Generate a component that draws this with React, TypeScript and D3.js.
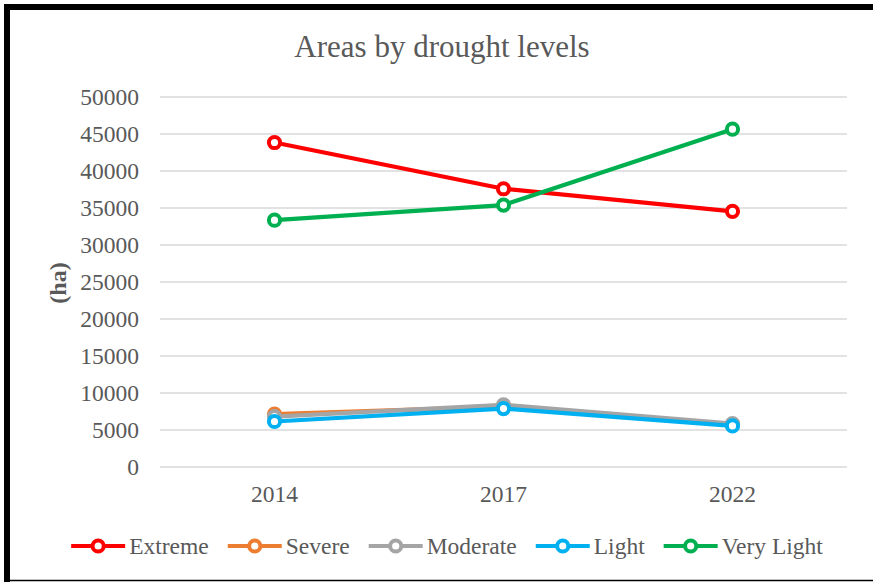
import React, { useEffect, useRef } from "react";
import * as d3 from "d3";

const years = ["2014", "2017", "2022"];
const seriesNames = ["Extreme", "Severe", "Moderate", "Light", "Very Light"];
const extreme = [43850, 37600, 34550];
const severe = [7150, 8150, 5750];
const moderate = [6800, 8400, 5850];
const light = [6150, 7900, 5550];
const veryLight = [33350, 35400, 45650];
const yTicks = [0, 5000, 10000, 15000, 20000, 25000, 30000, 35000, 40000, 45000, 50000];
const colors = ["#FF0000", "#ED7D31", "#A5A5A5", "#00B0F0", "#00B050"];

const W = 873;
const H = 582;
const FONT = "'Liberation Serif', 'Times New Roman', serif";
const TEXT = "#595959";

export default function App() {
  const ref = useRef<SVGSVGElement | null>(null);

  useEffect(() => {
    const svg = d3.select(ref.current);
    svg.selectAll("*").remove();

    const values = [extreme, severe, moderate, light, veryLight];

    const x = d3.scalePoint<string>().domain(years).range([160, 847]).padding(0.5);
    const y = d3.scaleLinear().domain([0, 50000]).range([467, 97]);

    svg.append("rect").attr("width", W).attr("height", H).attr("fill", "#fff");

    // outer frame: top, left and bottom edges
    svg
      .append("path")
      .attr("d", `M${W},7 H7 V${H}`)
      .attr("fill", "none")
      .attr("stroke", "#000")
      .attr("stroke-width", 6);
    svg
      .append("line")
      .attr("x1", 4)
      .attr("x2", W)
      .attr("y1", 580.5)
      .attr("y2", 580.5)
      .attr("stroke", "#000")
      .attr("stroke-width", 1.5);

    // title
    svg
      .append("text")
      .attr("x", 442)
      .attr("y", 57)
      .attr("text-anchor", "middle")
      .attr("font-family", FONT)
      .attr("font-size", 31)
      .attr("fill", TEXT)
      .text("Areas by drought levels");

    // gridlines
    svg
      .append("g")
      .selectAll("line")
      .data(yTicks)
      .join("line")
      .attr("x1", 160)
      .attr("x2", 847)
      .attr("y1", (d) => y(d))
      .attr("y2", (d) => y(d))
      .attr("stroke", "#d9d9d9")
      .attr("stroke-width", 1.5);

    // y tick labels
    svg
      .append("g")
      .selectAll("text")
      .data(yTicks)
      .join("text")
      .attr("x", 139)
      .attr("y", (d) => y(d))
      .attr("dy", "0.35em")
      .attr("text-anchor", "end")
      .attr("font-family", FONT)
      .attr("font-size", 23.5)
      .attr("fill", TEXT)
      .text((d) => String(d));

    // x tick labels
    svg
      .append("g")
      .selectAll("text")
      .data(years)
      .join("text")
      .attr("x", (d) => x(d) as number)
      .attr("y", 502)
      .attr("text-anchor", "middle")
      .attr("font-family", FONT)
      .attr("font-size", 23.5)
      .attr("fill", TEXT)
      .text((d) => d);

    // y axis title
    svg
      .append("text")
      .attr("transform", "translate(66,283) rotate(-90)")
      .attr("text-anchor", "middle")
      .attr("font-family", FONT)
      .attr("font-size", 24)
      .attr("font-weight", "bold")
      .attr("fill", TEXT)
      .text("(ha)");

    const line = d3
      .line<number>()
      .x((_, i) => x(years[i]) as number)
      .y((d) => y(d));

    values.forEach((vals, si) => {
      const g = svg.append("g");
      g.append("path")
        .attr("d", line(vals) as string)
        .attr("fill", "none")
        .attr("stroke", colors[si])
        .attr("stroke-width", 4.2)
        .attr("stroke-linejoin", "round");
      g.selectAll("circle")
        .data(vals)
        .join("circle")
        .attr("cx", (_, i) => x(years[i]) as number)
        .attr("cy", (d) => y(d))
        .attr("r", 5.6)
        .attr("fill", "#fff")
        .attr("stroke", colors[si])
        .attr("stroke-width", 4);
    });

    // legend
    const legend = svg.append("g");
    const items: { g: any; w: number }[] = [];
    seriesNames.forEach((name, i) => {
      const g = legend.append("g");
      g.append("line")
        .attr("x1", 0)
        .attr("x2", 54)
        .attr("y1", 0)
        .attr("y2", 0)
        .attr("stroke", colors[i])
        .attr("stroke-width", 4.2);
      g.append("circle")
        .attr("cx", 27)
        .attr("cy", 0)
        .attr("r", 5.6)
        .attr("fill", "#fff")
        .attr("stroke", colors[i])
        .attr("stroke-width", 4);
      const t = g
        .append("text")
        .attr("x", 58)
        .attr("y", 0)
        .attr("dy", "0.35em")
        .attr("font-family", FONT)
        .attr("font-size", 23.5)
        .attr("fill", TEXT)
        .text(name);
      const tw = (t.node() as SVGTextElement).getComputedTextLength();
      items.push({ g, w: 58 + tw });
    });
    const gap = 19;
    const total = items.reduce((s, it) => s + it.w, 0) + gap * (items.length - 1);
    let cx = 447 - total / 2;
    items.forEach((it) => {
      it.g.attr("transform", `translate(${cx},546)`);
      cx += it.w + gap;
    });
  }, []);

  return (
    <svg
      ref={ref}
      width={W}
      height={H}
      style={{ position: "absolute", left: 0, top: 0, display: "block", overflow: "hidden" }}
    />
  );
}
